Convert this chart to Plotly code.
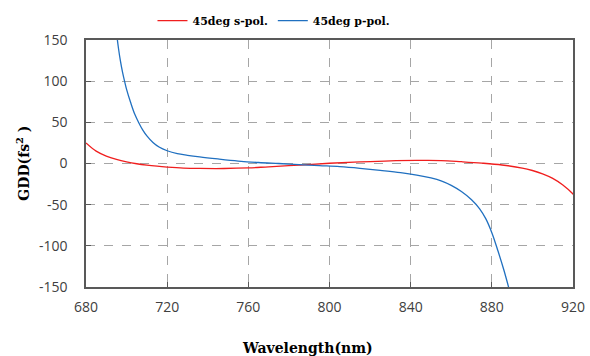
import plotly.graph_objects as go

# s-pol data (wavelength nm, GDD fs^2)
s_wl = [680, 685, 690, 695, 700, 705, 710, 715, 720, 728, 736, 748, 760, 770, 785, 800, 815, 830, 843, 855, 865, 875, 885, 895, 900, 905, 910, 915, 920, 925]
s_gdd = [25, 15, 9, 5, 2, -0.3, -2, -3.3, -4.3, -5.5, -6, -6.1, -5.4, -4, -2, 0.3, 2, 3.3, 3.7, 3.6, 2.2, 0.5, -1.8, -5.5, -8.5, -12.5, -18, -26, -37, -52]

# p-pol data
p_wl = [694, 695, 696, 697, 698, 699, 700, 702, 704, 706, 708, 710, 713, 716, 720, 725, 730, 736, 745, 755, 765, 775, 785, 795, 805, 815, 825, 835, 843, 850, 855, 860, 865, 870, 874, 877, 880, 883, 886, 889, 892]
p_gdd = [185, 160, 140, 124, 111, 100, 90, 74, 60, 49.5, 40.5, 33.5, 25.5, 20, 15.5, 12, 10, 8, 5.5, 3, 1.2, 0, -1.3, -2.6, -3.8, -5.8, -8.3, -11, -14, -17.5, -21, -26.5, -34, -44, -55, -67, -84, -106, -130, -157, -185]

x_ticks = [680, 720, 760, 800, 840, 880, 920]
y_ticks = [-150, -100, -50, 0, 50, 100, 150]
y_labels = ["-150", "-100", "-50", "0", "50", "100", "150"]

serif = "DejaVu Serif, Liberation Serif, serif"
sans = "Open Sans, Noto Sans, sans-serif"

fig = go.Figure()
fig.add_trace(go.Scatter(x=s_wl, y=s_gdd, mode="lines", name="45deg s-pol.",
                         line=dict(color="#F01E1E", width=1.3, shape="spline", smoothing=1)))
fig.add_trace(go.Scatter(x=p_wl, y=p_gdd, mode="lines", name="45deg p-pol.",
                         line=dict(color="#2070C0", width=1.3, shape="spline", smoothing=1)))

grid = dict(showgrid=True, gridcolor="#A6A6A6", griddash="dash", gridwidth=1,
            showline=True, linecolor="#595959", linewidth=1.5, mirror=True,
            ticks="inside", ticklen=5, tickcolor="#595959",
            tickfont=dict(family=sans, size=14, color="#404040"), zeroline=False)

fig.update_layout(
    width=590, height=356,
    margin=dict(l=86, r=17, t=40, b=69, autoexpand=False),
    paper_bgcolor="white", plot_bgcolor="white",
    showlegend=True,
    legend=dict(orientation="h", x=0.386, xanchor="center", y=1.02, yanchor="bottom",
                font=dict(family=serif, size=11, color="black", weight="bold"),
                bgcolor="rgba(0,0,0,0)", itemwidth=30, tracegroupgap=0),
    xaxis=dict(range=[680, 920], tickvals=x_ticks, ticklabelstandoff=6, **grid),
    yaxis=dict(range=[-150, 150], tickvals=y_ticks, ticktext=y_labels,
               ticklabelstandoff=14, **grid),
)
fig.add_annotation(text="Wavelength(nm)", x=0.454, xref="paper", y=-0.247, yref="paper",
                   yanchor="middle", showarrow=False,
                   font=dict(family=serif, size=14, color="black", weight="bold"))
fig.add_annotation(text="GDD(fs<sup>2</sup> )", x=-0.131, xref="paper", y=0.5, yref="paper",
                   textangle=-90, showarrow=False, xanchor="center",
                   font=dict(family=serif, size=14, color="black", weight="bold"))

fig.write_html("out.html")
